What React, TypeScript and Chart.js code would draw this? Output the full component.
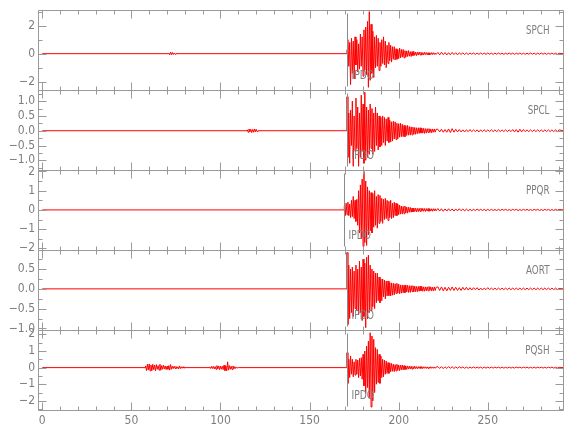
import React, { useEffect, useRef } from 'react';
import { Chart, registerables } from 'chart.js';

Chart.register(...registerables);

// ---------------- axes / annotations ----------------
const X_MIN = -2.4;
const X_MAX = 292.2;
const X_MINOR = 10;
const X_MAJOR = 50;
const xTickLabels = [0, 50, 100, 150, 200, 250];
const stationNames = ['SPCH', 'SPCL', 'PPQR', 'AORT', 'PQSH'];
const yIds = ['ySPCH', 'ySPCL', 'yPPQR', 'yAORT', 'yPQSH'];
const phaseName = 'IPDO';
const phaseTimes = [171, 171, 169.3, 171, 171];
const yMins = [-2.6, -1.33, -2.09, -1.04, -2.55];
const yMaxs = [3.1, 1.37, 2.07, 0.98, 2.26];
const yTickLabels = [
  [-2, 0, 2],
  [-1, -0.5, 0, 0.5, 1],
  [-2, -1, 0, 1, 2],
  [-1, -0.5, 0, 0.5],
  [-2, -1, 0, 1, 2],
];
const yMinorSteps = [1, 0.25, 0.5, 0.25, 0.5];
const yDecimals = [0, 1, 0, 1, 0];

// ---------------- trace samples ----------------
const TRACE_START = 0;
const BURST_DT = 0.5;
const burstStarts = [171, 171, 169.5, 171, 171];
const TAIL_START = 222;
const TAIL_DT = 1;

const spchBlipStart = 71;
const spchBlip = [0.04, -0.08, 0.1, -0.07, 0.09, -0.06, 0.05, -0.04, 0];

const spclBlipStart = 115;
const spclBlip = [0.03, -0.05, 0.06, -0.04, 0.05, -0.06, 0.04, -0.05, 0.06, -0.04, 0.05, -0.03, 0];

const pqshBurstAStart = 58;
const pqshBurstA = [
  0.1, -0.18, 0.2, -0.15, 0.22, -0.2, 0.15, -0.18, 0.2, -0.12,
  0.15, -0.2, 0.18, -0.1, 0.12, -0.15, 0.2, -0.16, 0.12, -0.1,
  0.15, -0.08, 0.1, -0.12, 0.08, -0.1, 0.12, -0.15, 0.18, -0.1,
  0.08, -0.06, 0.08, -0.05, 0.07, -0.06, 0.05, -0.08, 0.1, -0.06,
  0.05, -0.04, 0.05, -0.03, 0,
];
const pqshBurstBStart = 94;
const pqshBurstB = [
  0.04, -0.06, 0.08, -0.05, 0.07, -0.08, 0.06, -0.1, 0.12, -0.08,
  0.1, -0.12, 0.09, -0.1, 0.08, -0.12, 0.15, -0.18, 0.1, -0.2,
  0.35, -0.15, 0.12, -0.1, 0.08, -0.12, 0.1, -0.08, 0.06, -0.05,
  0.04, -0.03, 0,
];

const spchBurst = [
  0.3, 1.0, -0.9, 0.8, -2.2, 1.1, -1.4, 0.9, -1.8, 1.2,
  -0.8, 1.0, -1.3, 0.7, -1.1, 1.4, -0.9, 1.2, -1.6, 1.7,
  -1.2, 1.9, -1.5, 2.3, -2.4, 3.0, -1.9, 2.1, -1.4, 1.6,
  -1.7, 1.2, -1.0, 1.3, -0.9, 1.1, -1.2, 0.8, -0.9, 1.0,
  -0.7, 1.2, -0.8, 0.9, -1.0, 0.6, -0.7, 0.8, -0.5, 0.6,
  -0.6, 0.5, -0.4, 0.5, -0.45, 0.35, -0.4, 0.3, -0.35, 0.4,
  -0.3, 0.3, -0.25, 0.3, -0.3, 0.22, -0.25, 0.2, -0.2, 0.22,
  -0.18, 0.15, -0.2, 0.15, -0.14, 0.16, -0.12, 0.12, -0.14, 0.1,
  -0.1, 0.12, -0.09, 0.1, -0.11, 0.08, -0.09, 0.1, -0.07, 0.08,
  -0.08, 0.07, -0.09, 0.06, -0.07, 0.08, -0.06, 0.07, -0.06, 0.05,
  -0.05,
];
const spchTail = [
  0.09, -0.08, 0.1, -0.07, 0.08, -0.09, 0.07, -0.08, 0.09, -0.06,
  0.07, -0.08, 0.06, -0.05, 0.06, -0.06, 0.05, -0.06, 0.05, -0.04,
  0.05, -0.05, 0.04, -0.05, 0.05, -0.04, 0.04, -0.05, 0.05, -0.04,
  0.04, -0.05, 0.04, -0.04, 0.05, -0.04, 0.04, -0.05, 0.04, -0.04,
  0.05, -0.04, 0.04, -0.05, 0.04, -0.04, 0.05, -0.04, 0.04, -0.05,
  0.04, -0.04, 0.05, -0.04, 0.04, -0.05, 0.04, -0.04, 0.05, -0.04,
  0.04, -0.05, 0.04, -0.04, 0.05, -0.04, 0.04, -0.05, 0.03,
];

const spclBurst = [
  1.15, -0.9, 0.6, -1.1, 0.7, -0.5, 1.0, -1.2, 0.5, -0.7,
  1.1, -0.6, 0.8, -1.2, 0.6, -0.9, 1.2, -0.7, 0.9, -1.1,
  1.3, -1.0, 0.8, -0.9, 0.7, -0.8, 0.9, -0.6, 0.75, -0.8,
  0.6, -0.7, 0.8, -0.5, 0.6, -0.65, 0.5, -0.55, 0.45, -0.5,
  0.5, -0.4, 0.45, -0.5, 0.4, -0.35, 0.45, -0.4, 0.35, -0.38,
  0.3, -0.35, 0.32, -0.28, 0.3, -0.3, 0.25, -0.28, 0.24, -0.22,
  0.25, -0.2, 0.22, -0.2, 0.18, -0.2, 0.17, -0.16, 0.18, -0.15,
  0.14, -0.15, 0.13, -0.14, 0.12, -0.12, 0.11, -0.12, 0.1, -0.1,
  0.1, -0.09, 0.1, -0.08, 0.09, -0.08, 0.08, -0.09, 0.07, -0.08,
  0.07, -0.06, 0.07, -0.06, 0.06, -0.07, 0.06, -0.05, 0.06, -0.05,
  0.05,
];
const spclTail = [
  0.05, -0.04, 0.05, -0.05, 0.04, -0.05, 0.06, -0.06, 0.07, -0.05,
  0.05, -0.04, 0.04, -0.04, 0.03, -0.04, 0.03, -0.03, 0.04, -0.03,
  0.03, -0.03, 0.03, -0.04, 0.03, -0.03, 0.03, -0.03, 0.03, -0.03,
  0.03, -0.03, 0.03, -0.03, 0.03, -0.03, 0.03, -0.03, 0.03, -0.03,
  0.03, -0.03, 0.04, -0.04, 0.04, -0.05, 0.05, -0.04, 0.04, -0.03,
  0.03, -0.03, 0.03, -0.03, 0.03, -0.03, 0.03, -0.03, 0.03, -0.03,
  0.03, -0.03, 0.03, -0.03, 0.03, -0.03, 0.03, -0.03, 0.03,
];

const ppqrBurst = [
  0.2, -0.3, 0.35, -0.25, 0.4, -0.3, 0.3, -0.4, 0.5, -0.35,
  0.7, -0.45, 0.5, -0.6, 0.55, -0.8, 1.0, -1.2, 1.3, -1.5,
  1.6, -1.9, 2.0, -1.7, 1.5, -1.85, 1.2, -1.3, 1.0, -1.1,
  0.9, -1.2, 0.85, -0.9, 1.0, -0.8, 0.7, -0.95, 0.8, -0.7,
  0.75, -0.6, 0.6, -0.7, 0.55, -0.5, 0.6, -0.45, 0.5, -0.55,
  0.45, -0.4, 0.5, -0.45, 0.35, -0.4, 0.4, -0.3, 0.35, -0.3,
  0.3, -0.25, 0.25, -0.22, 0.2, -0.22, 0.18, -0.2, 0.2, -0.16,
  0.15, -0.17, 0.14, -0.12, 0.13, -0.12, 0.1, -0.11, 0.1, -0.09,
  0.09, -0.1, 0.08, -0.09, 0.08, -0.08, 0.09, -0.07, 0.08, -0.07,
  0.07, -0.08, 0.07, -0.06, 0.07, -0.07, 0.06, -0.06, 0.06, -0.07,
  0.06, -0.05, 0.06, -0.05,
];
const ppqrTail = [
  0.07, -0.06, 0.06, -0.07, 0.05, -0.06, 0.06, -0.05, 0.05, -0.06,
  0.05, -0.05, 0.06, -0.04, 0.05, -0.05, 0.04, -0.04, 0.03, -0.04,
  0.03, -0.03, 0.04, -0.03, 0.03, -0.03, 0.03, -0.04, 0.03, -0.03,
  0.03, -0.03, 0.02, -0.03, 0.03, -0.03, 0.03, -0.02, 0.03, -0.03,
  0.02, -0.03, 0.03, -0.02, 0.03, -0.03, 0.02, -0.03, 0.03, -0.02,
  0.03, -0.03, 0.02, -0.03, 0.03, -0.02, 0.03, -0.03, 0.02, -0.03,
  0.03, -0.02, 0.03, -0.03, 0.02, -0.03, 0.03, -0.02, 0.02,
];

const aortBurst = [
  0.92, -0.9, 0.6, -0.75, 0.5, -0.6, 0.55, -0.7, 0.45, -0.5,
  0.6, -0.55, 0.5, -0.65, 0.7, -0.6, 0.55, -0.8, 0.75, -0.7,
  0.65, -0.98, 0.8, -0.75, 0.85, -0.6, 0.6, -0.55, 0.5, -0.45,
  0.45, -0.5, 0.4, -0.35, 0.4, -0.3, 0.3, -0.35, 0.25, -0.3,
  0.25, -0.2, 0.22, -0.25, 0.2, -0.18, 0.2, -0.17, 0.16, -0.18,
  0.15, -0.16, 0.14, -0.15, 0.13, -0.12, 0.14, -0.11, 0.12, -0.12,
  0.1, -0.11, 0.1, -0.1, 0.09, -0.1, 0.1, -0.08, 0.09, -0.09,
  0.08, -0.09, 0.08, -0.07, 0.08, -0.08, 0.07, -0.07, 0.06, -0.07,
  0.06, -0.06, 0.07, -0.05, 0.06, -0.06, 0.05, -0.06, 0.05, -0.05,
  0.05, -0.05, 0.06, -0.04, 0.05, -0.05, 0.04, -0.05, 0.05, -0.04,
  0.04,
];
const aortTail = [
  0.05, -0.04, 0.05, -0.05, 0.04, -0.05, 0.04, -0.04, 0.05, -0.04,
  0.04, -0.04, 0.03, -0.04, 0.04, -0.03, 0.04, -0.03, 0.03, -0.03,
  0.03, -0.02, 0.03, -0.03, 0.02, -0.03, 0.02, -0.02, 0.03, -0.02,
  0.02, -0.02, 0.02, -0.02, 0.02, -0.02, 0.02, -0.02, 0.02, -0.02,
  0.02, -0.02, 0.02, -0.02, 0.02, -0.02, 0.02, -0.02, 0.02, -0.02,
  0.02, -0.02, 0.02, -0.02, 0.02, -0.02, 0.02, -0.02, 0.02, -0.02,
  0.02, -0.02, 0.02, -0.02, 0.02, -0.02, 0.02, -0.02, 0.01,
];

const pqshBurst = [
  0.9, -0.95, 0.5, -0.6, 0.7, -0.4, 0.5, -0.55, 0.35, -0.45,
  0.5, -0.4, 0.45, -0.6, 0.55, -0.5, 0.6, -0.7, 0.8, -1.1,
  1.0, -1.55, 1.3, -1.2, 1.6, -1.8, 2.1, -2.37, 1.9, -2.0,
  1.7, -1.5, 1.2, -1.0, 1.1, -0.9, 0.8, -0.95, 0.7, -0.6,
  0.5, -0.55, 0.45, -0.4, 0.4, -0.35, 0.3, -0.35, 0.28, -0.25,
  0.25, -0.22, 0.2, -0.24, 0.18, -0.2, 0.2, -0.17, 0.16, -0.18,
  0.15, -0.14, 0.16, -0.13, 0.12, -0.12, 0.1, -0.11, 0.1, -0.09,
  0.09, -0.08, 0.08, -0.09, 0.07, -0.07, 0.08, -0.06, 0.06, -0.07,
  0.06, -0.05, 0.06, -0.05, 0.05, -0.06, 0.05, -0.04, 0.05, -0.05,
  0.04, -0.05, 0.04, -0.04, 0.05, -0.04, 0.04, -0.04, 0.04, -0.04,
  0.03,
];
const pqshTail = [
  0.06, -0.05, 0.06, -0.06, 0.05, -0.05, 0.06, -0.04, 0.05, -0.05,
  0.04, -0.04, 0.05, -0.03, 0.04, -0.04, 0.03, -0.04, 0.03, -0.03,
  0.04, -0.03, 0.03, -0.03, 0.03, -0.04, 0.03, -0.03, 0.03, -0.03,
  0.03, -0.03, 0.03, -0.02, 0.03, -0.03, 0.03, -0.03, 0.02, -0.03,
  0.03, -0.03, 0.02, -0.03, 0.03, -0.02, 0.03, -0.03, 0.03, -0.02,
  0.03, -0.03, 0.02, -0.03, 0.03, -0.03, 0.03, -0.02, 0.03, -0.03,
  0.02, -0.03, 0.03, -0.02, 0.03, -0.03, 0.02, -0.03, 0.02,
];

// ---------------- styles ----------------
const FONT = '"Liberation Sans Narrow", "DejaVu Sans Condensed", "Liberation Sans", sans-serif';
const TEXT_COLOR = '#7d7d7d';
const AXIS_COLOR = '#9a9a9a';
const PICK_COLOR = '#8a8a8a';
const TRACE_COLOR = '#ff0000';

type Pt = { x: number; y: number };
const seg = (t0: number, dt: number, vals: number[]): Pt[] =>
  vals.map((v, i) => ({ x: t0 + i * dt, y: v }));

const quiet = (t: number): Pt => ({ x: t, y: 0 });

const blip = (t0: number, vals: number[]): Pt[] => [quiet(t0 - 0.1), ...seg(t0, BURST_DT, vals)];

const buildTrace = (pre: Pt[], burstStart: number, burst: number[], tail: number[]): Pt[] => [
  quiet(TRACE_START),
  ...pre,
  quiet(burstStart - 0.1),
  ...seg(burstStart, BURST_DT, burst),
  ...seg(TAIL_START, TAIL_DT, tail),
  quiet(X_MAX),
];

const traces: Pt[][] = [
  buildTrace(blip(spchBlipStart, spchBlip), burstStarts[0], spchBurst, spchTail),
  buildTrace(blip(spclBlipStart, spclBlip), burstStarts[1], spclBurst, spclTail),
  buildTrace([], burstStarts[2], ppqrBurst, ppqrTail),
  buildTrace([], burstStarts[3], aortBurst, aortTail),
  buildTrace(
    [...blip(pqshBurstAStart, pqshBurstA), ...blip(pqshBurstBStart, pqshBurstB)],
    burstStarts[4], pqshBurst, pqshTail
  ),
];

const fmt = (v: number, d: number) => {
  let s = Number(v).toFixed(d);
  if (/^-0(\.0+)?$/.test(s)) s = s.slice(1);
  return s.replace('-', '\u2212');
};

function drawNarrow(ctx: CanvasRenderingContext2D, text: string, x: number, y: number,
  align: CanvasTextAlign, size: number, sx: number) {
  ctx.save();
  ctx.translate(x, y);
  ctx.scale(sx, 1);
  ctx.font = `${size}px ${FONT}`;
  ctx.textAlign = align;
  ctx.textBaseline = 'middle';
  ctx.fillText(text, 0, 0);
  ctx.restore();
}

const seisPlugin = {
  id: 'seisFrame',
  afterDatasetsDraw(chart: any) {
    const { ctx, chartArea } = chart;
    const xs = chart.scales.x;
    const L = Math.round(chartArea.left) + 0.5;
    const R = Math.round(chartArea.right) + 0.5;
    ctx.save();
    ctx.lineWidth = 1;
    yIds.forEach((id, i) => {
      const ys = chart.scales[id];
      const T = Math.round(ys.top) + 0.5;
      const B = Math.round(ys.bottom) + 0.5;
      ctx.strokeStyle = AXIS_COLOR;
      ctx.beginPath();
      ctx.moveTo(L, T); ctx.lineTo(R, T); ctx.lineTo(R, B); ctx.lineTo(L, B); ctx.closePath();
      for (let k = 0; k * X_MINOR <= X_MAX; k++) {
        const v = k * X_MINOR;
        const p = Math.round(xs.getPixelForValue(v)) + 0.5;
        const len = v % X_MAJOR === 0 ? 8 : 4;
        ctx.moveTo(p, T); ctx.lineTo(p, T + len);
        ctx.moveTo(p, B); ctx.lineTo(p, B - len);
      }
      const step = yMinorSteps[i];
      const k0 = Math.ceil(yMins[i] / step - 1e-9);
      const k1 = Math.floor(yMaxs[i] / step + 1e-9);
      for (let k = k0; k <= k1; k++) {
        const v = k * step;
        const major = yTickLabels[i].some((t) => Math.abs(t - v) < 1e-9);
        const p = Math.round(ys.getPixelForValue(v)) + 0.5;
        if (p < T + 1 || p > B - 1) continue;
        const len = major ? 8 : 4;
        ctx.moveTo(L, p); ctx.lineTo(L + len, p);
        ctx.moveTo(R, p); ctx.lineTo(R - len, p);
      }
      ctx.stroke();
      const px = Math.round(xs.getPixelForValue(phaseTimes[i])) + 0.5;
      ctx.strokeStyle = PICK_COLOR;
      ctx.beginPath();
      ctx.moveTo(px, T + 3);
      ctx.lineTo(px, B - 4);
      ctx.stroke();
      ctx.fillStyle = TEXT_COLOR;
      drawNarrow(ctx, phaseName, px + 4, B - 15, 'left', 12, 0.85);
      drawNarrow(ctx, stationNames[i], R - 14, T + 20, 'right', 13, 0.75);
    });
    ctx.restore();
  },
};

export default function App() {
  const ref = useRef<HTMLCanvasElement>(null);
  useEffect(() => {
    if (!ref.current) return;
    const scales: any = {
      x: {
        type: 'linear',
        position: 'bottom',
        min: X_MIN,
        max: X_MAX,
        afterBuildTicks: (s: any) => { s.ticks = xTickLabels.map((v) => ({ value: v })); },
        afterFit: (s: any) => { s.height = 30; },
        grid: { display: false, drawTicks: false },
        border: { display: false },
        ticks: {
          color: TEXT_COLOR,
          font: { family: FONT, size: 12 },
          padding: 4,
          maxRotation: 0,
          autoSkip: false,
          callback: (v: any) => fmt(v, 0),
        },
      },
    };
    for (let i = yIds.length - 1; i >= 0; i--) {
      scales[yIds[i]] = {
        type: 'linear',
        position: 'left',
        stack: 'seis',
        stackWeight: 1,
        min: yMins[i],
        max: yMaxs[i],
        afterBuildTicks: (s: any) => { s.ticks = yTickLabels[i].map((v) => ({ value: v })); },
        afterFit: (s: any) => { s.width = 38; },
        grid: { display: false, drawTicks: false },
        border: { display: false },
        ticks: {
          color: TEXT_COLOR,
          font: { family: FONT, size: 12 },
          padding: 3,
          autoSkip: false,
          callback: (v: any) => fmt(v, yDecimals[i]),
        },
      };
    }
    const chart = new Chart(ref.current, {
      type: 'line',
      data: {
        datasets: traces.map((pts, i) => ({
          label: stationNames[i],
          data: pts,
          xAxisID: 'x',
          yAxisID: yIds[i],
          borderColor: TRACE_COLOR,
          borderWidth: 1,
          pointRadius: 0,
          fill: false,
          tension: 0,
        })),
      },
      options: {
        animation: false,
        responsive: false,
        events: [],
        layout: { padding: { top: 5, right: 17, left: 0, bottom: 0 } },
        plugins: { legend: { display: false }, tooltip: { enabled: false } },
        scales,
      },
      plugins: [seisPlugin],
    } as any);
    return () => chart.destroy();
  }, []);
  return (
    <div style={{ position: 'absolute', left: 0, top: 0, width: 580, height: 440, background: '#fff' }}>
      <canvas ref={ref} width={580} height={440} />
    </div>
  );
}
